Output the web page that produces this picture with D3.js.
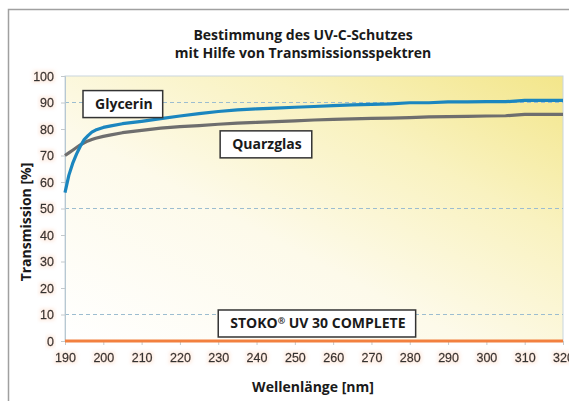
<!DOCTYPE html>
<html>
<head>
<meta charset="utf-8">
<script src="https://cdn.jsdelivr.net/npm/d3@7"></script>
<style>
    body { margin: 0; background: #fff; }
    #chart { width: 569px; height: 401px; }
</style>
</head>
<body>
<div id="chart"></div>
<script>
// wavelengths (nm)
const wavelengths = [190, 191, 192, 193, 194, 195, 196, 197, 198, 200, 202, 205, 210, 215, 220, 225, 230, 235, 240,
    245, 250, 255, 260, 265, 270, 275, 280, 285, 290, 295, 300, 305, 310, 315, 320];

// transmission [%]
const glycerin = [56, 62.5, 67, 70.5, 73.5, 76, 77.5, 78.8, 79.6, 80.6, 81.2, 82, 82.9, 83.9, 84.9, 85.8, 86.6, 87.2, 87.6,
    87.9, 88.2, 88.5, 88.8, 89.1, 89.3, 89.5, 89.9, 89.9, 90.2, 90.2, 90.3, 90.3, 90.8, 90.8, 90.8];
const quarzglas = [70, 71, 72, 73, 74, 74.8, 75.5, 76, 76.5, 77.2, 77.8, 78.6, 79.5, 80.3, 80.9, 81.3, 81.8, 82.2, 82.5,
    82.8, 83.1, 83.4, 83.6, 83.8, 84, 84.1, 84.3, 84.6, 84.7, 84.8, 84.9, 85, 85.5, 85.5, 85.5];
const stoko = [0, 0, 0, 0, 0, 0, 0, 0, 0, 0, 0, 0, 0, 0, 0, 0, 0, 0, 0,
    0, 0, 0, 0, 0, 0, 0, 0, 0, 0, 0, 0, 0, 0, 0, 0];

const xTicks = [190, 200, 210, 220, 230, 240, 250, 260, 270, 280, 290, 300, 310, 320];
const yTicks = [0, 10, 20, 30, 40, 50, 60, 70, 80, 90, 100];
const gridValues = [90, 50, 10];

const titleLines = ["Bestimmung des UV-C-Schutzes", "mit Hilfe von Transmissionsspektren"];

// label boxes: text and top-left corner in data units
const labels = [
    { text: "Glycerin", nm: 194.7, val: 94.5 },
    { text: "Quarzglas", nm: 230.5, val: 79.3 },
    { text: "STOKO\u00ae UV 30 COMPLETE", nm: 230.0, val: 11.7 }
];

class SpectraChart {

    constructor(_parentElement) {
        this.parentElement = _parentElement;
        this.initVis();
    }

    initVis() {
        let vis = this;

        vis.margin = { top: 76, right: 6, bottom: 60, left: 65 };
        vis.width = 569 - vis.margin.left - vis.margin.right;
        vis.height = 401 - vis.margin.top - vis.margin.bottom;

        vis.root = d3.select("#" + vis.parentElement).append("svg")
            .attr("width", 569)
            .attr("height", 401);

        let defs = vis.root.append("defs");

        let grad = defs.append("linearGradient")
            .attr("id", "bg-grad")
            .attr("x1", 0).attr("y1", 1)
            .attr("x2", 1).attr("y2", 0);
        grad.append("stop").attr("offset", "0%").attr("stop-color", "#ffffff");
        grad.append("stop").attr("offset", "40%").attr("stop-color", "#fdfaea");
        grad.append("stop").attr("offset", "70%").attr("stop-color", "#f9f2c0");
        grad.append("stop").attr("offset", "100%").attr("stop-color", "#f3e68a");

        // faint orange halo behind tick labels
        let glow = defs.append("filter").attr("id", "glow")
            .attr("x", "-20%").attr("y", "-30%").attr("width", "140%").attr("height", "160%");
        glow.append("feMorphology").attr("in", "SourceAlpha").attr("operator", "dilate").attr("radius", 1.5).attr("result", "d");
        glow.append("feGaussianBlur").attr("in", "d").attr("stdDeviation", 1.5).attr("result", "b");
        glow.append("feFlood").attr("flood-color", "#f7b58f").attr("flood-opacity", 0.2);
        glow.append("feComposite").attr("in2", "b").attr("operator", "in").attr("result", "g");
        let merge = glow.append("feMerge");
        merge.append("feMergeNode").attr("in", "g");
        merge.append("feMergeNode").attr("in", "SourceGraphic");

        // outer frame
        vis.root.append("path")
            .attr("d", "M8.5,401 L8.5,9.5 L569,9.5")
            .attr("fill", "none")
            .attr("stroke", "#a0a0a0")
            .attr("stroke-width", 1.5);

        vis.svg = vis.root.append("g")
            .attr("transform", "translate(" + vis.margin.left + "," + vis.margin.top + ")");

        vis.x = d3.scaleLinear()
            .domain([190, 320])
            .range([0, vis.width]);

        vis.y = d3.scaleLinear()
            .domain([0, 100])
            .range([vis.height, 0]);

        // plot background
        vis.svg.append("rect")
            .attr("width", vis.width)
            .attr("height", vis.height)
            .attr("fill", "url(#bg-grad)")
            .attr("stroke", "#c9d6de")
            .attr("stroke-width", 1);

        // dashed grid lines
        vis.svg.selectAll(".grid")
            .data(gridValues)
            .enter()
            .append("line")
            .attr("class", "grid")
            .attr("x1", 0)
            .attr("x2", vis.width)
            .attr("y1", d => vis.y(d))
            .attr("y2", d => vis.y(d))
            .attr("stroke", "#9cbdd0")
            .attr("stroke-width", 1)
            .attr("stroke-dasharray", "4,3");

        // axes
        vis.xAxis = d3.axisBottom(vis.x)
            .tickValues(xTicks)
            .tickSize(4)
            .tickPadding(8)
            .tickFormat(d3.format("d"));

        vis.yAxis = d3.axisLeft(vis.y)
            .tickValues(yTicks)
            .tickSize(4)
            .tickPadding(8);

        vis.xAxisG = vis.svg.append("g")
            .attr("class", "x-axis")
            .attr("transform", "translate(0," + vis.height + ")")
            .call(vis.xAxis);

        vis.yAxisG = vis.svg.append("g")
            .attr("class", "y-axis")
            .call(vis.yAxis);

        [vis.xAxisG, vis.yAxisG].forEach(g => {
            g.select(".domain").attr("stroke", "#b7c8d2");
            g.selectAll(".tick line").attr("stroke", "#c3c9cc");
            g.selectAll(".tick text")
                .attr("fill", "#333333")
                .attr("stroke", "#333333")
                .attr("stroke-width", 0.3)
                .attr("filter", "url(#glow)")
                .style("font-family", "'Liberation Sans', Arial, sans-serif")
                .style("font-size", "12.5px");
        });
        vis.yAxisG.selectAll(".tick text").attr("x", -11);

        // lines
        vis.line = d3.line()
            .x((d, i) => vis.x(wavelengths[i]))
            .y(d => vis.y(d));

        let series = [
            { values: stoko, color: "#f2803f" },
            { values: quarzglas, color: "#6e6e6e" },
            { values: glycerin, color: "#1b86bf" }
        ];

        vis.svg.selectAll(".series")
            .data(series)
            .enter()
            .append("path")
            .attr("class", "series")
            .attr("d", d => vis.line(d.values))
            .attr("fill", "none")
            .attr("stroke", d => d.color)
            .attr("stroke-width", 3.2)
            .attr("stroke-linejoin", "round");

        // label boxes
        let lab = vis.svg.selectAll(".label")
            .data(labels)
            .enter()
            .append("g")
            .attr("class", "label")
            .attr("transform", d => "translate(" + vis.x(d.nm) + "," + vis.y(d.val) + ")");

        let labText = lab.append("text")
            .attr("x", 12)
            .attr("y", 18.5)
            .attr("fill", "#1a1a1a")
            .style("font-family", "'Open Sans', sans-serif")
            .style("font-weight", "bold")
            .style("font-size", "14px");

        // the registered sign is set small and raised
        labText.each(function (d) {
            let t = d3.select(this);
            d.text.split(/(\u00ae)/).filter(s => s.length).forEach(part => {
                let ts = t.append("tspan").text(part);
                if (part === "\u00ae") {
                    ts.style("font-size", "9px").attr("dy", -4);
                } else if (t.selectAll("tspan").size() > 1) {
                    ts.attr("dy", 4);
                }
            });
        });

        lab.each(function () {
            let g = d3.select(this);
            let bb = g.select("text").node().getBBox();
            g.insert("rect", "text")
                .attr("x", 0)
                .attr("y", 0)
                .attr("width", bb.width + 22)
                .attr("height", 27)
                .attr("fill", "#ffffff")
                .attr("stroke", "#333333")
                .attr("stroke-width", 1.5);
        });

        // title
        vis.root.selectAll(".title")
            .data(titleLines)
            .enter()
            .append("text")
            .attr("class", "title")
            .attr("x", 303)
            .attr("y", (d, i) => 40 + i * 18)
            .attr("text-anchor", "middle")
            .attr("fill", "#1a1a1a")
            .style("font-family", "'Open Sans', sans-serif")
            .style("font-weight", "bold")
            .style("font-size", "14px")
            .text(d => d);

        // axis titles
        vis.root.append("text")
            .attr("transform", "translate(31,222) rotate(-90)")
            .attr("text-anchor", "middle")
            .attr("fill", "#1a1a1a")
            .style("font-family", "'Open Sans', sans-serif")
            .style("font-weight", "bold")
            .style("font-size", "14px")
            .text("Transmission [%]");

        vis.root.append("text")
            .attr("x", 313)
            .attr("y", 392)
            .attr("text-anchor", "middle")
            .attr("fill", "#1a1a1a")
            .style("font-family", "'Open Sans', sans-serif")
            .style("font-weight", "bold")
            .style("font-size", "14px")
            .text("Wellenlänge [nm]");
    }
}

new SpectraChart("chart");
</script>
</body>
</html>
